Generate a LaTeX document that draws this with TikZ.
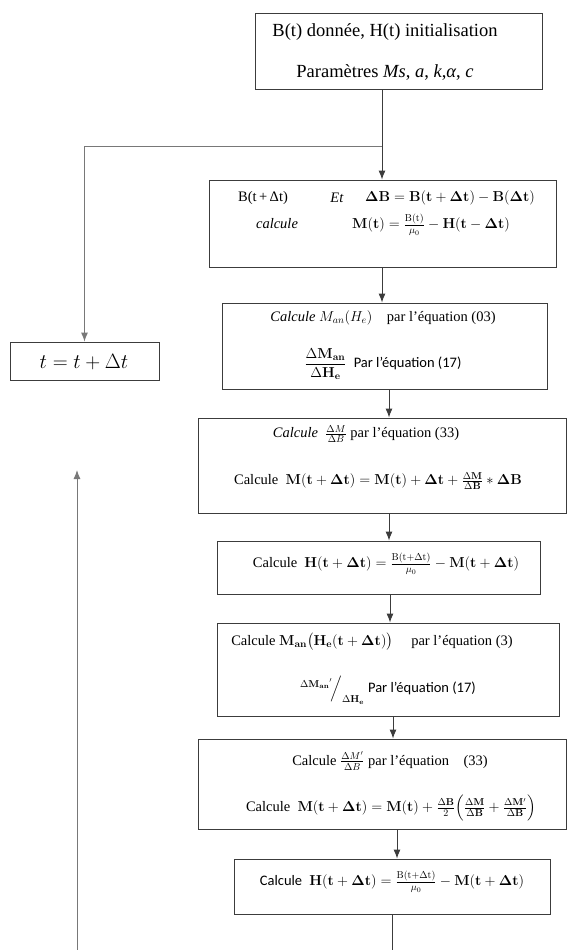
\documentclass[tikz,border=0pt]{standalone}
\usepackage{amssymb}
\usepackage{amsmath}
\usepackage[no-math]{fontspec}
\setmainfont{Liberation Serif}
\setsansfont{Carlito}
\usepackage{tikz}
\usetikzlibrary{arrows,arrows.meta,positioning,calc}
\definecolor{trait}{RGB}{60,60,60}
\definecolor{gristrait}{RGB}{120,120,120}
\tikzset{
  texte/.style={inner sep=0pt,font=\fontsize{14.5}{17}\selectfont},
  grandtexte/.style={inner sep=0pt,font=\fontsize{18.5}{22}\selectfont}
}

\begin{document}
\begin{tikzpicture}[x=1pt,y=-1pt]
\tikzstyle{fleche}=[-{Latex[length=9pt,width=7pt]},draw=trait,line width=1pt]
\tikzstyle{boite}=[draw=trait,line width=0.8pt,inner sep=0pt]
\tikzstyle{retour}=[-{Latex[length=9pt,width=7pt]},draw=gristrait,line width=1pt]
\useasboundingbox (0,0) rectangle (575,950);
% les boites
\node[boite,minimum width=287pt,minimum height=76pt] (Init) at (398.5,51) {};
\node[boite,minimum width=347pt,minimum height=87pt] (PasB) at (382.5,223.5) {};
\node[boite,minimum width=325pt,minimum height=86pt] (PasMan) at (384.5,346) {};
\node[boite,minimum width=149pt,minimum height=38pt] (Incr) at (84.5,361) {};
\node[boite,minimum width=368pt,minimum height=95pt] (PasM) at (382,465.5) {};
\node[boite,minimum width=323pt,minimum height=53pt] (PasH) at (378.5,567.5) {};
\node[boite,minimum width=342pt,minimum height=93pt] (PasManB) at (388,669.5) {};
\node[boite,minimum width=368pt,minimum height=90pt] (PasMB) at (382,784) {};
\node[boite,minimum width=316pt,minimum height=55pt] (PasHB) at (392,886.5) {};
% les textes
\node[grandtexte] (InitA) at (385,32) {B(t) donnée, H(t) initialisation};
\node[grandtexte] (InitB) at (385,72) {Paramètres \textit{Ms}, \textit{a}, \textit{k},\textit{α}, \textit{c}};
\node[texte] (BA) at (263,198) {B(t\,+\,Δt)};
\node[texte] (BB) at (337,198) {\textit{Et}};
\node[texte] (BC) at (450,198) {$\mathbf{\Delta B = B(t+\Delta t) - B(\Delta t)}$};
\node[texte] (BD) at (277,224) {\textit{calcule}};
\node[texte] (BE) at (431,225) {$\mathbf{M(t)} = \frac{\mathrm{B(t)}}{\mu_0} - \mathbf{H(t-\Delta t)}$};
\node[texte] (ManA) at (383,318) {\textit{Calcule} $M_{an}(H_e)$\quad par l’équation (03)};
\node[texte] (ManB) at (383,364) {$\dfrac{\Delta\mathbf{M_{an}}}{\Delta\mathbf{H_e}}$\ \ {\sffamily Par l'équation (17)}};
\node[texte] (Inc) at (84,362) {\fontsize{20}{24}\selectfont$t = t + \Delta t$};
\node[texte] (MA) at (366,434) {\textit{Calcule}\ \ $\frac{\Delta M}{\Delta B}$ par l’équation (33)};
\node[texte] (MB) at (378,481) {Calcule\ \ $\mathbf{M(t+\Delta t) = M(t) + \Delta t} + \frac{\Delta \mathbf{M}}{\Delta \mathbf{B}} * \mathbf{\Delta B}$};
\node[texte] (HA) at (386,564) {Calcule\ \ $\mathbf{H(t+\Delta t)} = \frac{\mathrm{B(t+\Delta t)}}{\mu_0} - \mathbf{M(t+\Delta t)}$};
\node[texte] (ManBA) at (372,642) {Calcule $\mathbf{M_{an}\big(H_e(t+\Delta t)\big)}$\quad\ par l’équation (3)};
\node[texte] (ManBB) at (388,690) {${}^{\Delta\mathbf{M_{an}}'}\!\Big/_{\Delta\mathbf{H_e}}$\ {\sffamily Par l'équation (17)}};
\node[texte] (MBA) at (390,761) {Calcule $\frac{\Delta M'}{\Delta B}$\ par l’équation\quad (33)};
\node[texte] (MBB) at (391,808) {Calcule\ \ $\mathbf{M(t+\Delta t) = M(t)} + \frac{\Delta \mathbf{B}}{2}\Big(\frac{\Delta \mathbf{M}}{\Delta \mathbf{B}} + \frac{\Delta \mathbf{M}'}{\Delta \mathbf{B}}\Big)$};
\node[texte] (HBA) at (392,882) {{\sffamily Calcule}\ \ $\mathbf{H(t+\Delta t)} = \frac{\mathrm{B(t+\Delta t)}}{\mu_0} - \mathbf{M(t+\Delta t)}$};
% points de passage
\coordinate (J) at (382,146);
\coordinate (xa) at (389,0);
\coordinate (xb) at (390,0);
\coordinate (xc) at (393,0);
\coordinate (xd) at (397,0);
\coordinate (xe) at (392,0);
\coordinate (Bas) at (392,950);
\coordinate (Depart) at (77,950);
\coordinate (Fin) at (77,470);
% les fleches
\draw[trait,line width=1pt] (Init.south -| J)--(J);
\draw[fleche] (J)--(J |- PasB.north);
\draw[retour] (J)--(J -| Incr.north)--(Incr.north);
\draw[fleche] (PasB.south -| J)--(PasMan.north -| J);
\draw[fleche] (PasMan.south -| xa)--(PasM.north -| xa);
\draw[fleche] (PasM.south -| xa)--(PasH.north -| xa);
\draw[fleche] (PasH.south -| xb)--(PasManB.north -| xb);
\draw[fleche] (PasManB.south -| xc)--(PasMB.north -| xc);
\draw[fleche] (PasMB.south -| xd)--(PasHB.north -| xd);
\draw[trait,line width=1pt] (PasHB.south -| xe)--(Bas);
\draw[retour] (Depart)--(Fin);
\end{tikzpicture}
\end{document}
